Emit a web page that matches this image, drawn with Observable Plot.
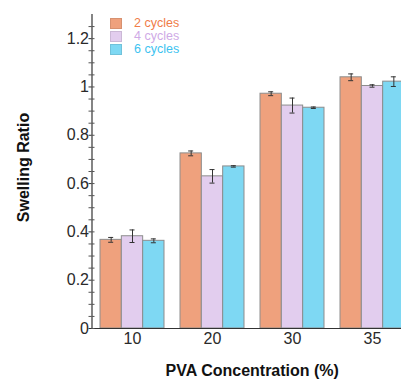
<!DOCTYPE html>
<html>
<head>
<meta charset="utf-8">
<script src="https://cdn.jsdelivr.net/npm/d3@7"></script>
<script src="https://cdn.jsdelivr.net/npm/@observablehq/plot@0.6"></script>
<style>
  html, body { margin: 0; padding: 0; background: white; overflow: hidden; }
  #wrap { position: relative; width: 401px; height: 383px; overflow: hidden; font-family: Arial, "Liberation Sans", Helvetica, sans-serif; }
  #legend { position: absolute; left: 110px; top: 17px; font-size: 12.5px; line-height: 13px; }
  #legend .row { display: flex; align-items: center; height: 13px; }
  #legend .sw { width: 12px; height: 11px; margin-right: 12px; box-sizing: border-box; }
</style>
</head>
<body>
<div id="wrap"><div id="chart"></div><div id="legend"></div></div>
<script>
// ---- data ----
const concentrations = ["10", "20", "30", "35"];
const cycles = ["2 cycles", "4 cycles", "6 cycles"];
const ratio2 = [0.367, 0.725, 0.972, 1.040];
const ratio4 = [0.382, 0.630, 0.923, 1.004];
const ratio6 = [0.363, 0.671, 0.914, 1.022];
const err2 = [0.010, 0.010, 0.008, 0.014];
const err4 = [0.026, 0.028, 0.031, 0.005];
const err6 = [0.008, 0.003, 0.003, 0.020];
const yMajorTicks = [0, 0.2, 0.4, 0.6, 0.8, 1, 1.2];
const yMinorTicks = [0.05, 0.1, 0.15, 0.25, 0.3, 0.35, 0.45, 0.5, 0.55, 0.65, 0.7, 0.75,
                     0.85, 0.9, 0.95, 1.05, 1.1, 1.15, 1.25];
const xTitle = "PVA Concentration (%)";
const yTitle = "Swelling Ratio";

// ---- styling ----
const fills = ["#efa17d", "#e2cdee", "#7ed8f3"];
const textColors = ["#f07c48", "#cfaae6", "#3ec3f0"];
const values = [ratio2, ratio4, ratio6];
const errors = [err2, err4, err6];

const rows = cycles.flatMap((cycle, k) => concentrations.map((conc, i) => ({
  conc, cycle, k, value: values[k][i], err: errors[k][i]
})));

const bandwidth = 64;            // x band width in px (step 80, paddingInner 0.2)
const w = bandwidth / 3;         // width of one bar
const cap = 5;                   // error-bar cap width

const marks = [];
cycles.forEach((cycle, k) => {
  const sub = rows.filter(d => d.k === k);
  marks.push(Plot.barY(sub, {
    x: "conc", y: "value", fill: fills[k], stroke: "#8d8d8d", strokeWidth: 1,
    insetLeft: k * w, insetRight: (2 - k) * w
  }));
});
cycles.forEach((cycle, k) => {
  const sub = rows.filter(d => d.k === k);
  marks.push(Plot.ruleX(sub, {
    x: "conc", y1: d => d.value - d.err, y2: d => d.value + d.err,
    dx: (k - 1) * w, stroke: "#333", strokeWidth: 1
  }));
  marks.push(Plot.tickY(sub, {
    x: "conc", y: d => d.value - d.err, stroke: "#333", strokeWidth: 1,
    insetLeft: k * w + w / 2 - cap / 2, insetRight: (2 - k) * w + w / 2 - cap / 2
  }));
  marks.push(Plot.tickY(sub, {
    x: "conc", y: d => d.value + d.err, stroke: "#333", strokeWidth: 1,
    insetLeft: k * w + w / 2 - cap / 2, insetRight: (2 - k) * w + w / 2 - cap / 2
  }));
});

const chart = Plot.plot({
  width: 412,
  height: 383,
  marginLeft: 91.5,
  marginRight: 0,
  marginTop: 14,
  marginBottom: 55,
  style: {
    fontFamily: 'Arial, "Liberation Sans", Helvetica, sans-serif',
    fontSize: "16px",
    color: "#2a2a2a",
    background: "white",
    maxWidth: "none",
    overflow: "hidden"
  },
  x: { domain: concentrations, paddingInner: 0.2, paddingOuter: 0.1, label: null },
  y: { domain: [0, 1.3], label: null },
  marks: [
    ...marks,
    Plot.frame({ anchor: "left", stroke: "#333", strokeWidth: 1.2 }),
    Plot.frame({ anchor: "bottom", stroke: "#333", strokeWidth: 1.2 }),
    Plot.axisY({ ticks: yMajorTicks, tickSize: 3, tickPadding: 0, tickFormat: d => String(d), label: null, stroke: "#333" }),
    Plot.axisY({ ticks: yMinorTicks, tickSize: 3, tickFormat: () => "", label: null, stroke: "#555" }),
    Plot.axisY({ ticks: yMajorTicks.concat(yMinorTicks), tickSize: 3, dx: 3, tickFormat: () => "", label: null, stroke: "#555" }),
    Plot.axisX({ tickSize: 0, tickPadding: 4, label: null }),
    Plot.text([xTitle], { frameAnchor: "bottom", dy: 47, fontWeight: "bold", fontSize: 16, fill: "#111" }),
    Plot.text([yTitle], { frameAnchor: "left", textAnchor: "middle", rotate: -90, dx: -68, dy: -4, fontWeight: "bold", fontSize: 16, fill: "#111" })
  ]
});
document.getElementById("chart").appendChild(chart);

// legend (HTML overlay inside plot area)
const legend = document.getElementById("legend");
cycles.forEach((c, k) => {
  const row = document.createElement("div");
  row.className = "row";
  const sw = document.createElement("div");
  sw.className = "sw";
  sw.style.background = fills[k];
  sw.style.border = "1px solid " + d3.color(fills[k]).darker(0.3);
  const t = document.createElement("span");
  t.textContent = c;
  t.style.color = textColors[k];
  row.appendChild(sw); row.appendChild(t);
  legend.appendChild(row);
});
</script>
</body>
</html>
